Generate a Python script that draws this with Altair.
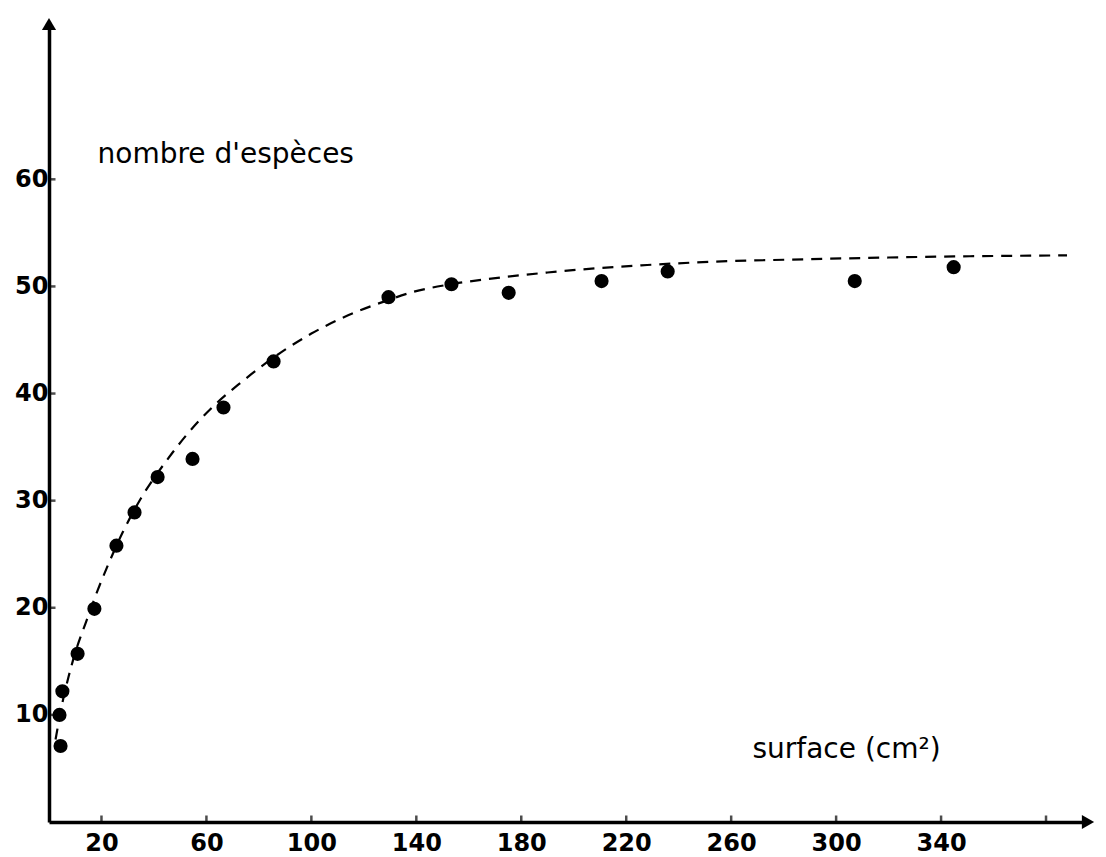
import altair as alt
import pandas as pd

# ---- data ----
surface = [4.4, 4.0, 5.1, 10.9, 17.3, 25.7, 32.6, 41.4, 54.7, 66.5, 85.6,
           129.4, 153.4, 175.2, 210.6, 235.8, 307.1, 344.8]
especes = [7.1, 10.0, 12.2, 15.7, 19.9, 25.8, 28.9, 32.2, 33.9, 38.7, 43.0,
           49.0, 50.2, 49.4, 50.5, 51.4, 50.5, 51.8]

curve_x = [2.5, 5, 7.5, 10, 14, 18.5, 22.5, 28, 35, 45, 53, 63, 73, 83, 90,
           100, 114, 129, 139, 153, 171, 190, 209, 228, 252, 282, 320, 345, 388]
curve_y = [7.7, 11.0, 13.6, 15.8, 18.6, 21.6, 24.0, 27.0, 30.2, 33.8, 36.3,
           38.9, 41.0, 42.9, 44.1, 45.6, 47.3, 48.7, 49.5, 50.2, 50.8, 51.3,
           51.7, 52.0, 52.3, 52.5, 52.7, 52.8, 52.9]

x_label_values = [20, 60, 100, 140, 180, 220, 260, 300, 340]
x_tick_values = [20, 60, 100, 140, 180, 220, 260, 300, 340, 380]
y_tick_values = [10, 20, 30, 40, 50, 60]

X_MAX = 396
Y_MAX = 74.5

x_title = "surface (cm²)"
y_title = "nombre d'espèces"

# ---- tables ----
pts = pd.DataFrame({"x": surface, "y": especes})
crv = pd.DataFrame({"x": curve_x, "y": curve_y})
xt = pd.DataFrame({"x": x_tick_values, "y": [0] * len(x_tick_values)})
yt = pd.DataFrame({"x": [0] * len(y_tick_values), "y": y_tick_values})
arrow_up = pd.DataFrame({"x": [0], "y": [Y_MAX]})
arrow_right = pd.DataFrame({"x": [X_MAX], "y": [0]})

FONT = "DejaVu Sans"

x_axis = alt.Axis(
    values=x_label_values, format="d", grid=False, ticks=False,
    domainColor="black", domainWidth=3.5,
    labelFont=FONT, labelFontWeight="bold", labelFontSize=24,
    labelColor="black", labelPadding=9, labelOverlap=False, labelFlush=False,
    title=x_title, titleFont=FONT, titleFontSize=28, titleFontWeight="normal",
    titleColor="black", titleAngle=0, titleAlign="left",
    titleBaseline="alphabetic", titleX=703, titleY=-65,
)
y_axis = alt.Axis(
    values=y_tick_values, format="d", grid=False, ticks=False,
    domainColor="black", domainWidth=3.5,
    labelFont=FONT, labelFontWeight="bold", labelFontSize=24,
    labelColor="black", labelPadding=1, labelOverlap=False, labelFlush=False,
    labelBaseline="middle",
    title=y_title, titleFont=FONT, titleFontSize=28, titleFontWeight="normal",
    titleColor="black", titleAngle=0, titleAlign="left",
    titleBaseline="alphabetic", titleX=48, titleY=138,
)

x_enc = alt.X("x:Q", scale=alt.Scale(domain=[0, X_MAX], nice=False, zero=False), axis=x_axis)
y_enc = alt.Y("y:Q", scale=alt.Scale(domain=[0, Y_MAX], nice=False, zero=False), axis=y_axis)

line = alt.Chart(crv).mark_line(
    color="black", strokeWidth=2.2, strokeDash=[11, 8], interpolate="monotone"
).encode(x=x_enc, y=y_enc)

dots = alt.Chart(pts).mark_circle(size=200, color="black", opacity=1).encode(x=x_enc, y=y_enc)

xticks = alt.Chart(xt).mark_tick(
    orient="vertical", size=7, thickness=2.5, yOffset=-3, color="black"
).encode(x=x_enc, y=y_enc)

yticks = alt.Chart(yt).mark_tick(
    orient="horizontal", size=7, thickness=2.5, xOffset=3, color="black"
).encode(x=x_enc, y=y_enc)

up = alt.Chart(arrow_up).mark_point(
    shape="triangle-up", filled=True, size=200, color="black", opacity=1
).encode(x=x_enc, y=y_enc)

right = alt.Chart(arrow_right).mark_point(
    shape="triangle-right", filled=True, size=200, color="black", opacity=1
).encode(x=x_enc, y=y_enc)

chart = alt.layer(line, dots, xticks, yticks, up, right).properties(
    width=1039, height=798,
    padding={"left": 41, "top": 16, "right": 10, "bottom": 42},
    autosize=alt.AutoSizeParams(type="none"),
    background="white",
).configure_view(stroke=None)

chart.save("out.html", embed_options={"renderer": "svg", "actions": False})
